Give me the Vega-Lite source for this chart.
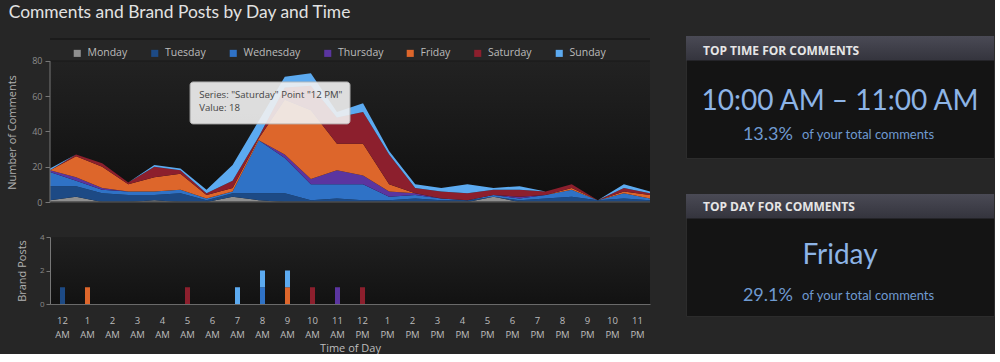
{
  "$schema": "https://vega.github.io/schema/vega-lite/v6.json",
  "background": "#262626",
  "padding": {"left": 6, "top": 4, "right": 0, "bottom": 0},
  "title": {"text": "Comments and Brand Posts by Day and Time", "anchor": "start", "frame": "bounds", "font": "Lato", "fontSize": 17.4, "fontWeight": "normal", "color": "#e2e2e2", "offset": 14, "dx": 2},
  "config": {
    "font": "Open Sans",
    "view": {"stroke": null},
    "axis": {"grid": false, "labelFont": "Open Sans", "titleFont": "Open Sans", "titleFontWeight": "normal", "domainColor": "#777777", "tickColor": "#777777", "labelColor": "#9a9a9a", "titleColor": "#b0b0b0"}
  },
  "datasets": {
    "comments": [
      {"h":0,"d":"Monday","i":1,"n":1},{"h":0,"d":"Tuesday","i":2,"n":8},{"h":0,"d":"Wednesday","i":3,"n":8},{"h":0,"d":"Thursday","i":4,"n":1},{"h":0,"d":"Friday","i":5,"n":0},{"h":0,"d":"Saturday","i":6,"n":0},{"h":0,"d":"Sunday","i":7,"n":1},
      {"h":1,"d":"Monday","i":1,"n":3},{"h":1,"d":"Tuesday","i":2,"n":6},{"h":1,"d":"Wednesday","i":3,"n":3},{"h":1,"d":"Thursday","i":4,"n":2},{"h":1,"d":"Friday","i":5,"n":12},{"h":1,"d":"Saturday","i":6,"n":1},{"h":1,"d":"Sunday","i":7,"n":0},
      {"h":2,"d":"Monday","i":1,"n":0},{"h":2,"d":"Tuesday","i":2,"n":5},{"h":2,"d":"Wednesday","i":3,"n":2},{"h":2,"d":"Thursday","i":4,"n":1},{"h":2,"d":"Friday","i":5,"n":12},{"h":2,"d":"Saturday","i":6,"n":2},{"h":2,"d":"Sunday","i":7,"n":0},
      {"h":3,"d":"Monday","i":1,"n":0},{"h":3,"d":"Tuesday","i":2,"n":4},{"h":3,"d":"Wednesday","i":3,"n":2},{"h":3,"d":"Thursday","i":4,"n":0},{"h":3,"d":"Friday","i":5,"n":4},{"h":3,"d":"Saturday","i":6,"n":1},{"h":3,"d":"Sunday","i":7,"n":0},
      {"h":4,"d":"Monday","i":1,"n":1},{"h":4,"d":"Tuesday","i":2,"n":3},{"h":4,"d":"Wednesday","i":3,"n":2},{"h":4,"d":"Thursday","i":4,"n":0},{"h":4,"d":"Friday","i":5,"n":8},{"h":4,"d":"Saturday","i":6,"n":6},{"h":4,"d":"Sunday","i":7,"n":1},
      {"h":5,"d":"Monday","i":1,"n":0},{"h":5,"d":"Tuesday","i":2,"n":5},{"h":5,"d":"Wednesday","i":3,"n":2},{"h":5,"d":"Thursday","i":4,"n":0},{"h":5,"d":"Friday","i":5,"n":9},{"h":5,"d":"Saturday","i":6,"n":2},{"h":5,"d":"Sunday","i":7,"n":1},
      {"h":6,"d":"Monday","i":1,"n":0},{"h":6,"d":"Tuesday","i":2,"n":1},{"h":6,"d":"Wednesday","i":3,"n":1},{"h":6,"d":"Thursday","i":4,"n":0},{"h":6,"d":"Friday","i":5,"n":2},{"h":6,"d":"Saturday","i":6,"n":1},{"h":6,"d":"Sunday","i":7,"n":2},
      {"h":7,"d":"Monday","i":1,"n":3},{"h":7,"d":"Tuesday","i":2,"n":2},{"h":7,"d":"Wednesday","i":3,"n":1},{"h":7,"d":"Thursday","i":4,"n":0},{"h":7,"d":"Friday","i":5,"n":2},{"h":7,"d":"Saturday","i":6,"n":4},{"h":7,"d":"Sunday","i":7,"n":9},
      {"h":8,"d":"Monday","i":1,"n":1},{"h":8,"d":"Tuesday","i":2,"n":4},{"h":8,"d":"Wednesday","i":3,"n":30},{"h":8,"d":"Thursday","i":4,"n":0},{"h":8,"d":"Friday","i":5,"n":1},{"h":8,"d":"Saturday","i":6,"n":1},{"h":8,"d":"Sunday","i":7,"n":9},
      {"h":9,"d":"Monday","i":1,"n":0},{"h":9,"d":"Tuesday","i":2,"n":5},{"h":9,"d":"Wednesday","i":3,"n":20},{"h":9,"d":"Thursday","i":4,"n":2},{"h":9,"d":"Friday","i":5,"n":31},{"h":9,"d":"Saturday","i":6,"n":7},{"h":9,"d":"Sunday","i":7,"n":6},
      {"h":10,"d":"Monday","i":1,"n":0},{"h":10,"d":"Tuesday","i":2,"n":1},{"h":10,"d":"Wednesday","i":3,"n":9},{"h":10,"d":"Thursday","i":4,"n":3},{"h":10,"d":"Friday","i":5,"n":39},{"h":10,"d":"Saturday","i":6,"n":14},{"h":10,"d":"Sunday","i":7,"n":7},
      {"h":11,"d":"Monday","i":1,"n":0},{"h":11,"d":"Tuesday","i":2,"n":2},{"h":11,"d":"Wednesday","i":3,"n":8},{"h":11,"d":"Thursday","i":4,"n":8},{"h":11,"d":"Friday","i":5,"n":15},{"h":11,"d":"Saturday","i":6,"n":15},{"h":11,"d":"Sunday","i":7,"n":3},
      {"h":12,"d":"Monday","i":1,"n":0},{"h":12,"d":"Tuesday","i":2,"n":1},{"h":12,"d":"Wednesday","i":3,"n":9},{"h":12,"d":"Thursday","i":4,"n":5},{"h":12,"d":"Friday","i":5,"n":18},{"h":12,"d":"Saturday","i":6,"n":18},{"h":12,"d":"Sunday","i":7,"n":5},
      {"h":13,"d":"Monday","i":1,"n":0},{"h":13,"d":"Tuesday","i":2,"n":1},{"h":13,"d":"Wednesday","i":3,"n":2},{"h":13,"d":"Thursday","i":4,"n":3},{"h":13,"d":"Friday","i":5,"n":4},{"h":13,"d":"Saturday","i":6,"n":17},{"h":13,"d":"Sunday","i":7,"n":2},
      {"h":14,"d":"Monday","i":1,"n":0},{"h":14,"d":"Tuesday","i":2,"n":2},{"h":14,"d":"Wednesday","i":3,"n":2},{"h":14,"d":"Thursday","i":4,"n":1},{"h":14,"d":"Friday","i":5,"n":0},{"h":14,"d":"Saturday","i":6,"n":3},{"h":14,"d":"Sunday","i":7,"n":2},
      {"h":15,"d":"Monday","i":1,"n":0},{"h":15,"d":"Tuesday","i":2,"n":1},{"h":15,"d":"Wednesday","i":3,"n":1},{"h":15,"d":"Thursday","i":4,"n":0},{"h":15,"d":"Friday","i":5,"n":0},{"h":15,"d":"Saturday","i":6,"n":4},{"h":15,"d":"Sunday","i":7,"n":2},
      {"h":16,"d":"Monday","i":1,"n":0},{"h":16,"d":"Tuesday","i":2,"n":1},{"h":16,"d":"Wednesday","i":3,"n":0},{"h":16,"d":"Thursday","i":4,"n":0},{"h":16,"d":"Friday","i":5,"n":0},{"h":16,"d":"Saturday","i":6,"n":4},{"h":16,"d":"Sunday","i":7,"n":5},
      {"h":17,"d":"Monday","i":1,"n":3},{"h":17,"d":"Tuesday","i":2,"n":0},{"h":17,"d":"Wednesday","i":3,"n":1},{"h":17,"d":"Thursday","i":4,"n":0},{"h":17,"d":"Friday","i":5,"n":0},{"h":17,"d":"Saturday","i":6,"n":3},{"h":17,"d":"Sunday","i":7,"n":1},
      {"h":18,"d":"Monday","i":1,"n":0},{"h":18,"d":"Tuesday","i":2,"n":1},{"h":18,"d":"Wednesday","i":3,"n":1},{"h":18,"d":"Thursday","i":4,"n":1},{"h":18,"d":"Friday","i":5,"n":0},{"h":18,"d":"Saturday","i":6,"n":4},{"h":18,"d":"Sunday","i":7,"n":2},
      {"h":19,"d":"Monday","i":1,"n":0},{"h":19,"d":"Tuesday","i":2,"n":2},{"h":19,"d":"Wednesday","i":3,"n":2},{"h":19,"d":"Thursday","i":4,"n":0},{"h":19,"d":"Friday","i":5,"n":0},{"h":19,"d":"Saturday","i":6,"n":2},{"h":19,"d":"Sunday","i":7,"n":0},
      {"h":20,"d":"Monday","i":1,"n":0},{"h":20,"d":"Tuesday","i":2,"n":3},{"h":20,"d":"Wednesday","i":3,"n":4},{"h":20,"d":"Thursday","i":4,"n":0},{"h":20,"d":"Friday","i":5,"n":1},{"h":20,"d":"Saturday","i":6,"n":2},{"h":20,"d":"Sunday","i":7,"n":0},
      {"h":21,"d":"Monday","i":1,"n":0},{"h":21,"d":"Tuesday","i":2,"n":1},{"h":21,"d":"Wednesday","i":3,"n":0},{"h":21,"d":"Thursday","i":4,"n":0},{"h":21,"d":"Friday","i":5,"n":0},{"h":21,"d":"Saturday","i":6,"n":0},{"h":21,"d":"Sunday","i":7,"n":0},
      {"h":22,"d":"Monday","i":1,"n":0},{"h":22,"d":"Tuesday","i":2,"n":2},{"h":22,"d":"Wednesday","i":3,"n":3},{"h":22,"d":"Thursday","i":4,"n":0},{"h":22,"d":"Friday","i":5,"n":1},{"h":22,"d":"Saturday","i":6,"n":2},{"h":22,"d":"Sunday","i":7,"n":2},
      {"h":23,"d":"Monday","i":1,"n":0},{"h":23,"d":"Tuesday","i":2,"n":1},{"h":23,"d":"Wednesday","i":3,"n":1},{"h":23,"d":"Thursday","i":4,"n":0},{"h":23,"d":"Friday","i":5,"n":2},{"h":23,"d":"Saturday","i":6,"n":1},{"h":23,"d":"Sunday","i":7,"n":1}
    ],
    "posts": [
      {"t":"12 AM","d":"Tuesday","i":2,"p":1},
      {"t":"1 AM","d":"Friday","i":5,"p":1},
      {"t":"5 AM","d":"Saturday","i":6,"p":1},
      {"t":"7 AM","d":"Sunday","i":7,"p":1},
      {"t":"8 AM","d":"Wednesday","i":3,"p":1},
      {"t":"8 AM","d":"Sunday","i":7,"p":1},
      {"t":"9 AM","d":"Friday","i":5,"p":1},
      {"t":"9 AM","d":"Sunday","i":7,"p":1},
      {"t":"10 AM","d":"Saturday","i":6,"p":1},
      {"t":"11 AM","d":"Thursday","i":4,"p":1},
      {"t":"12 PM","d":"Saturday","i":6,"p":1}
    ],
    "panelTime": [{"header":"TOP TIME FOR COMMENTS","main":"10:00 AM – 11:00 AM","pct":"13.3%","note":"of your total comments"}],
    "panelDay": [{"header":"TOP DAY FOR COMMENTS","main":"Friday","pct":"29.1%","note":"of your total comments"}],
    "one": [{}]
  },
  "hconcat": [
    {
      "spacing": 26,
      "vconcat": [
        {
          "width": 600,
          "height": 166,
          "layer": [
            {
              "data": {"name": "one"},
              "mark": {"type": "rect", "color": {"gradient": "linear", "x1": 0, "y1": 0, "x2": 0, "y2": 1, "stops": [{"offset": 0, "color": "#222222"}, {"offset": 1, "color": "#0f0f0f"}]}},
              "encoding": {"y": {"datum": 80, "type": "quantitative"}, "y2": {"datum": 0}}
            },
            {
              "data": {"name": "comments"},
              "mark": {"type": "area"},
              "encoding": {
                "x": {"field": "h", "type": "quantitative", "scale": {"domain": [0, 23], "nice": false}, "axis": null},
                "y": {"field": "n", "type": "quantitative", "stack": "zero", "scale": {"domain": [0, 94.18], "nice": false},
                      "axis": {"values": [0, 10, 20, 30, 40, 50, 60, 70, 80], "domain": false, "tickSize": 5, "labelFontSize": 9, "labelPadding": 3, "labelColor": "#8c8c8c", "title": "Number of Comments", "titleFontSize": 11, "titlePadding": 14, "titleY": 96}},
                "color": {"field": "d", "type": "nominal",
                          "scale": {"domain": ["Monday", "Tuesday", "Wednesday", "Thursday", "Friday", "Saturday", "Sunday"], "range": ["#8f8f8f", "#1d4a85", "#2f72c6", "#5b35a0", "#dd662b", "#8c1f2d", "#5caaf0"]},
                          "legend": {"orient": "none", "legendX": 22, "legendY": 12, "direction": "horizontal", "columns": 7, "title": null, "symbolType": "square", "symbolSize": 50, "symbolStrokeWidth": 0, "labelColor": "#bcbcbc", "labelFontSize": 10.5, "labelFont": "Open Sans", "columnPadding": 21.5, "labelOffset": 5, "padding": 0}},
                "order": {"field": "i", "type": "quantitative"}
              }
            },
            {
              "data": {"name": "one"},
              "mark": {"type": "rule", "color": "#181818", "strokeWidth": 1.5},
              "encoding": {"y": {"datum": 92.48, "type": "quantitative"}}
            },
            {
              "data": {"name": "one"},
              "mark": {"type": "rule", "color": "#1a1a1a", "strokeWidth": 1},
              "encoding": {"y": {"datum": 80, "type": "quantitative"}}
            },
            {
              "data": {"name": "one"},
              "mark": {"type": "rule", "color": "#4a4a4a", "strokeWidth": 1.5},
              "encoding": {"y": {"datum": 0, "type": "quantitative"}}
            },
            {
              "data": {"name": "one"},
              "mark": {"type": "rule", "color": "#777777", "strokeWidth": 1},
              "encoding": {"x": {"datum": 0, "type": "quantitative"}, "y": {"datum": 0, "type": "quantitative"}, "y2": {"datum": 80}}
            },
            {
              "data": {"name": "one"},
              "mark": {"type": "rect", "color": "#f2f2f2", "opacity": 0.9, "stroke": "#bbbbbb", "strokeWidth": 1, "cornerRadius": 3},
              "encoding": {"x": {"datum": 5.37, "type": "quantitative"}, "x2": {"datum": 11.5}, "y": {"datum": 68.1, "type": "quantitative"}, "y2": {"datum": 44.3}}
            },
            {
              "data": {"name": "one"},
              "mark": {"type": "text", "align": "left", "baseline": "top", "fontSize": 9.6, "lineHeight": 13, "color": "#444444", "font": "Open Sans", "text": ["Series: \"Saturday\" Point \"12 PM\"", "Value: 18"]},
              "encoding": {"x": {"datum": 5.72, "type": "quantitative"}, "y": {"datum": 63.6, "type": "quantitative"}}
            }
          ]
        },
        {
          "width": 600,
          "height": 67,
          "data": {"name": "posts"},
          "view": {"fill": {"gradient": "linear", "x1": 0, "y1": 0, "x2": 0, "y2": 1, "stops": [{"offset": 0, "color": "#202020"}, {"offset": 1, "color": "#121212"}]}},
          "mark": {"type": "bar"},
          "encoding": {
            "x": {"field": "t", "type": "ordinal",
                  "scale": {"domain": ["12 AM", "1 AM", "2 AM", "3 AM", "4 AM", "5 AM", "6 AM", "7 AM", "8 AM", "9 AM", "10 AM", "11 AM", "12 PM", "1 PM", "2 PM", "3 PM", "4 PM", "5 PM", "6 PM", "7 PM", "8 PM", "9 PM", "10 PM", "11 PM"], "paddingInner": 0.8, "paddingOuter": 0.4},
                  "axis": {"labelExpr": "split(datum.label, ' ')", "labelAngle": 0, "ticks": false, "labelFontSize": 9.5, "labelColor": "#bdbdbd", "labelPadding": 11, "labelLineHeight": 14, "domainColor": "#6a6a6a", "title": "Time of Day", "titleFontSize": 11, "titleColor": "#bdbdbd", "titlePadding": 4}},
            "y": {"field": "p", "type": "quantitative", "stack": "zero", "scale": {"domain": [0, 4], "nice": false},
                  "axis": {"values": [0, 2, 4], "tickSize": 4, "labelFontSize": 8, "labelColor": "#8a8a8a", "title": "Brand Posts", "titleFontSize": 11, "titlePadding": 12}},
            "color": {"field": "d", "type": "nominal",
                      "scale": {"domain": ["Monday", "Tuesday", "Wednesday", "Thursday", "Friday", "Saturday", "Sunday"], "range": ["#8f8f8f", "#1d4a85", "#2f72c6", "#5b35a0", "#dd662b", "#8c1f2d", "#5caaf0"]},
                      "legend": null},
            "order": {"field": "i", "type": "quantitative"}
          }
        }
      ]
    },
    {
      "spacing": 34,
      "vconcat": [
        {
          "width": 308,
          "height": 122,
          "data": {"name": "panelTime"},
          "view": {"fill": "#141414", "stroke": "#2c2c2c"},
          "layer": [
            {
              "mark": {"type": "rect", "color": {"gradient": "linear", "x1": 0, "y1": 0, "x2": 0, "y2": 1, "stops": [{"offset": 0, "color": "#4a4a55"}, {"offset": 1, "color": "#34343d"}]}},
              "encoding": {"x": {"datum": 0, "type": "quantitative", "scale": {"domain": [0, 1], "nice": false}, "axis": null}, "x2": {"datum": 1}, "y": {"datum": 0, "type": "quantitative", "scale": {"domain": [0, 1], "reverse": true, "nice": false}, "axis": null}, "y2": {"datum": 0.2}}
            },
            {
              "mark": {"type": "text", "align": "left", "baseline": "middle", "fontSize": 12, "fontWeight": "bold", "color": "#e6e6e6", "font": "Open Sans"},
              "encoding": {"x": {"datum": 0.055, "type": "quantitative", "axis": null}, "y": {"datum": 0.125, "type": "quantitative", "axis": null}, "text": {"field": "header"}}
            },
            {
              "mark": {"type": "text", "align": "center", "baseline": "middle", "fontSize": 28, "color": "#8db4e6", "font": "Lato"},
              "encoding": {"x": {"datum": 0.5, "type": "quantitative", "axis": null}, "y": {"datum": 0.545, "type": "quantitative", "axis": null}, "text": {"field": "main"}}
            },
            {
              "mark": {"type": "text", "align": "right", "baseline": "middle", "fontSize": 18, "color": "#6f9ad0", "font": "Lato"},
              "encoding": {"x": {"datum": 0.347, "type": "quantitative", "axis": null}, "y": {"datum": 0.815, "type": "quantitative", "axis": null}, "text": {"field": "pct"}}
            },
            {
              "mark": {"type": "text", "align": "left", "baseline": "middle", "fontSize": 13, "color": "#6f9ad0", "font": "Lato"},
              "encoding": {"x": {"datum": 0.377, "type": "quantitative", "axis": null}, "y": {"datum": 0.815, "type": "quantitative", "axis": null}, "text": {"field": "note"}}
            }
          ]
        },
        {
          "width": 308,
          "height": 122,
          "data": {"name": "panelDay"},
          "view": {"fill": "#141414", "stroke": "#2c2c2c"},
          "layer": [
            {
              "mark": {"type": "rect", "color": {"gradient": "linear", "x1": 0, "y1": 0, "x2": 0, "y2": 1, "stops": [{"offset": 0, "color": "#4a4a55"}, {"offset": 1, "color": "#34343d"}]}},
              "encoding": {"x": {"datum": 0, "type": "quantitative", "scale": {"domain": [0, 1], "nice": false}, "axis": null}, "x2": {"datum": 1}, "y": {"datum": 0, "type": "quantitative", "scale": {"domain": [0, 1], "reverse": true, "nice": false}, "axis": null}, "y2": {"datum": 0.2}}
            },
            {
              "mark": {"type": "text", "align": "left", "baseline": "middle", "fontSize": 12, "fontWeight": "bold", "color": "#e6e6e6", "font": "Open Sans"},
              "encoding": {"x": {"datum": 0.055, "type": "quantitative", "axis": null}, "y": {"datum": 0.11, "type": "quantitative", "axis": null}, "text": {"field": "header"}}
            },
            {
              "mark": {"type": "text", "align": "center", "baseline": "middle", "fontSize": 28, "color": "#8db4e6", "font": "Lato"},
              "encoding": {"x": {"datum": 0.5, "type": "quantitative", "axis": null}, "y": {"datum": 0.505, "type": "quantitative", "axis": null}, "text": {"field": "main"}}
            },
            {
              "mark": {"type": "text", "align": "right", "baseline": "middle", "fontSize": 18, "color": "#6f9ad0", "font": "Lato"},
              "encoding": {"x": {"datum": 0.347, "type": "quantitative", "axis": null}, "y": {"datum": 0.835, "type": "quantitative", "axis": null}, "text": {"field": "pct"}}
            },
            {
              "mark": {"type": "text", "align": "left", "baseline": "middle", "fontSize": 13, "color": "#6f9ad0", "font": "Lato"},
              "encoding": {"x": {"datum": 0.377, "type": "quantitative", "axis": null}, "y": {"datum": 0.835, "type": "quantitative", "axis": null}, "text": {"field": "note"}}
            }
          ]
        }
      ]
    }
  ],
  "spacing": 34
}
